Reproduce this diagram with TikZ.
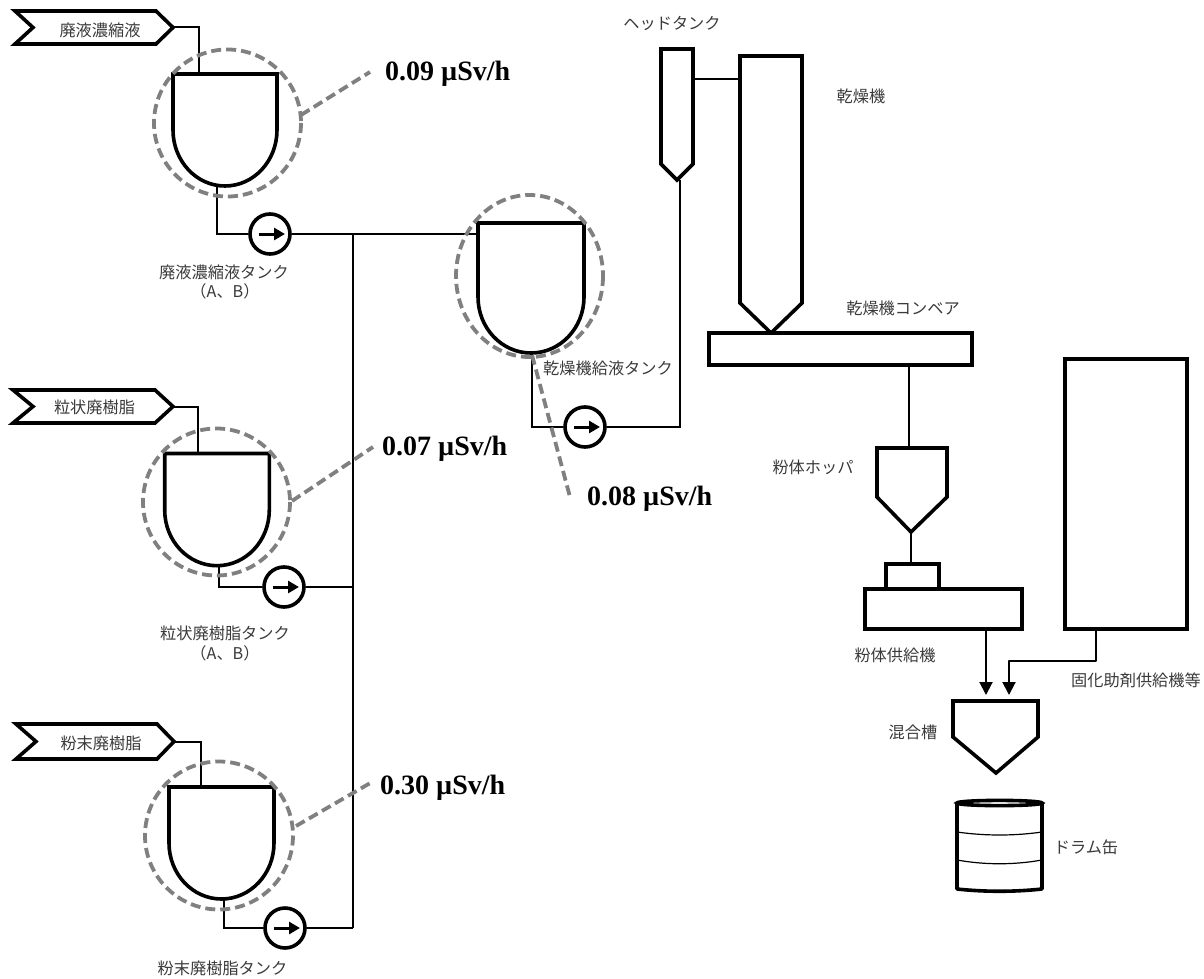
\documentclass[tikz,border=0pt]{standalone}
\usepackage{fontspec}
\usetikzlibrary{arrows.meta,calc}
\newfontfamily\jpfont{Noto Sans CJK JP}
\newfontfamily\valfont{Liberation Serif}
\definecolor{dosegray}{HTML}{808080}
\definecolor{jpgray}{HTML}{3A3A3A}
\tikzset{
  vessel/.style={draw=black,line width=3.6pt,fill=white,miter limit=10},
  vesselbox/.style={vessel,rectangle,inner sep=0pt,outer sep=0pt},
  pipe/.style={draw=black,line width=2pt},
  feed/.style={pipe,-{Triangle[length=13pt,width=13pt]},shorten >=0pt},
  pumpbody/.style={circle,draw=black,line width=3.6pt,fill=white,minimum size=40pt,inner sep=0pt,outer sep=1.8pt},
  pumparrow/.style={draw=black,line width=3pt,-{Triangle[length=11pt,width=12pt]}},
  dosezone/.style={draw=dosegray,line width=3.8pt,dash pattern=on 10pt off 5pt},
  doselead/.style={draw=dosegray,line width=3.8pt,dash pattern=on 10pt off 5pt},
  jplabel/.style={font=\jpfont\fontsize{16.2}{18}\selectfont,text=jpgray,inner sep=0pt},
  doselabel/.style={font=\valfont\bfseries\fontsize{28}{32}\selectfont,anchor=base west,inner sep=0pt},
  drumband/.style={draw=black,line width=1.2pt}
}
% name, left, right, top, shoulder, bottom
\newcommand{\tankshape}[6]{%
  \draw[vessel,line join=miter] (#2,#4) -- (#3,#4) -- (#3,#5)
     arc[start angle=0,end angle=180,x radius={(#3-#2)/2},y radius={#6-#5}] -- cycle;
}
% name, left x, shoulder x, tip x, top y, bottom y, notch x
\newcommand{\tagshape}[7]{%
  \draw[vessel,line join=miter] (#2,#5) -- (#3,#5) -- (#4,{(#5+#6)/2}) -- (#3,#6) -- (#2,#6) -- (#7,{(#5+#6)/2}) -- cycle;
  \coordinate (#1) at (#4,{(#5+#6)/2});
}
\newcommand{\pumpmark}[1]{%
  \draw[pumparrow] ([xshift=-11pt]#1.center) -- ([xshift=15pt]#1.center);
}
\begin{document}
\begin{tikzpicture}[x=1pt,y=-1pt]
\useasboundingbox (0,0) rectangle (1204,979);

% --- feed tags
\tagshape{tagA}{15}{156}{173}{11}{44}{33}
\tagshape{tagB}{13}{155}{173}{390}{423}{33}
\tagshape{tagC}{16}{157}{174}{724}{759}{36}
\node[jplabel] (tagAtext) at (100,30) {廃液濃縮液};
\node[jplabel] (tagBtext) at (94.5,407) {粒状廃樹脂};
\node[jplabel] (tagCtext) at (101,743) {粉末廃樹脂};

% --- pipe junction coordinates
\coordinate (inA) at (199,74);
\coordinate (inB) at (198,454);
\coordinate (inC) at (201,787);
\coordinate (botA) at (217,186);
\coordinate (botB) at (219,565);
\coordinate (botC) at (224,899);
\coordinate (busTop) at (353,234);
\coordinate (busB) at (353,587);
\coordinate (busC) at (353,928);
\coordinate (tankDin) at (478,234);
\coordinate (botD) at (532,353);
\coordinate (riserBot) at (680,427);
\coordinate (riserTop) at (680,180);

% --- pumps
\node[pumpbody] (pumpA) at (270,234) {};
\node[pumpbody] (pumpB) at (284,587) {};
\node[pumpbody] (pumpC) at (285,928) {};
\node[pumpbody] (pumpD) at (585,427) {};

% --- pipes
\draw[pipe] (tagA) -| (inA);
\draw[pipe] (tagB) -| (inB);
\draw[pipe] (tagC) -| (inC);
\draw[pipe] (botA) |- (pumpA);
\draw[pipe] (botB) |- (pumpB);
\draw[pipe] (botC) |- (pumpC);
\draw[pipe] (pumpA) -- (tankDin);
\draw[pipe] (busTop) -- (busC);
\draw[pipe] (pumpB) -- (busB);
\draw[pipe] (pumpC) -- (busC);
\draw[pipe] (botD) |- (pumpD);
\draw[pipe] (pumpD) -- (riserBot) -- (riserTop);

% --- tanks
\tankshape{tankA}{173}{277}{74}{130}{186}
\tankshape{tankB}{164.7}{269.3}{453.5}{510}{565.7}
\tankshape{tankC}{169}{274}{787}{843}{899}
\tankshape{tankD}{478}{584}{223}{297}{353}

\pumpmark{pumpA}
\pumpmark{pumpB}
\pumpmark{pumpC}
\pumpmark{pumpD}

% --- dose zones and leaders
\coordinate (leadA) at (301,115);
\coordinate (leadAend) at (370,72);
\coordinate (leadB) at (292,501);
\coordinate (leadBend) at (373,447);
\coordinate (leadC) at (296,826);
\coordinate (leadCend) at (372,782);
\coordinate (leadD) at (532,355);
\coordinate (leadDend) at (570,497);
\draw[dosezone] (227.5,123) circle[radius=73.5];
\draw[dosezone] (216.5,502) circle[radius=73.5];
\draw[dosezone] (219,835.5) circle[radius=74];
\draw[dosezone] (529.5,276) ellipse[x radius=73.5,y radius=81];
\draw[doselead] (leadA) -- (leadAend);
\draw[doselead] (leadB) -- (leadBend);
\draw[doselead] (leadC) -- (leadCend);
\draw[doselead] (leadD) -- (leadDend);
\node[doselabel] (doseA) at (385,81) {0.09 µSv/h};
\node[doselabel] (doseB) at (382,455) {0.07 µSv/h};
\node[doselabel] (doseC) at (380,794) {0.30 µSv/h};
\node[doselabel] (doseD) at (587,505) {0.08 µSv/h};

% --- head tank and dryer
\draw[vessel,line join=miter] (661,49) -- (693,49) -- (693,164) -- (677,180) -- (661,164) -- cycle;
\draw[vessel,line join=miter] (740,56) -- (802,56) -- (802,303) -- (771,333) -- (740,303) -- cycle;
\coordinate (headOut) at (693,79);
\coordinate (dryerIn) at (740,79);
\draw[pipe] (headOut) -- (dryerIn);

% --- conveyor
\node[vesselbox,minimum width=263pt,minimum height=32pt] (conveyor) at (840.5,349) {};
\coordinate (convOut) at (909,365);
\coordinate (hopIn) at (909,448);
\draw[pipe] (convOut) -- (hopIn);

% --- hopper and feeder
\draw[vessel,line join=miter] (877,448) -- (947,448) -- (947,497) -- (911,532) -- (877,497) -- cycle;
\coordinate (hopOut) at (911,532);
\coordinate (feedIn) at (911,564);
\draw[pipe] (hopOut) -- (feedIn);
\node[vesselbox,minimum width=53pt,minimum height=26pt] (feedTop) at (912.5,577) {};
\node[vesselbox,minimum width=157pt,minimum height=40pt] (feeder) at (943.5,609) {};

% --- solidification agent feeder
\node[vesselbox,minimum width=122pt,minimum height=270pt] (agent) at (1126,494) {};

% --- feed arrows
\coordinate (feederOut) at (986,629);
\coordinate (mixInA) at (986,695);
\coordinate (agentOut) at (1096,629);
\coordinate (agentBend) at (1096,661);
\coordinate (agentBend2) at (1009,661);
\coordinate (mixInB) at (1009,695);
\draw[feed] (feederOut) -- (mixInA);
\draw[feed,line join=round] (agentOut) -- (agentBend) -- (agentBend2) -- (mixInB);

% --- mixing tank
\draw[vessel,line join=miter] (953,701) -- (1038,701) -- (1038,737) -- (996,773) -- (953,737) -- cycle;

% --- drum
\fill[white] (957,803) rectangle (1042,889);
\draw[drumband] (957,832) .. controls (985,836) and (1014,836) .. (1042,832);
\draw[drumband] (957,860) .. controls (985,865) and (1014,865) .. (1042,860);
\draw[vessel,fill=none,line join=round] (957,803) -- (957,889) .. controls (985,892) and (1014,892) .. (1042,889) -- (1042,803);
\draw[vessel,fill=white] (999.5,803) ellipse[x radius=42.5,y radius=2.6];

% --- labels
\node[jplabel] (lblTankA) at (224,272) {廃液濃縮液タンク};
\node[jplabel] (lblTankAb) at (225,291) {（A、B）};
\node[jplabel] (lblTankB) at (225,633) {粒状廃樹脂タンク};
\node[jplabel] (lblTankBb) at (225,653) {（A、B）};
\node[jplabel] (lblTankC) at (222.5,968) {粉末廃樹脂タンク};
\node[jplabel] (lblTankD) at (608,368) {乾燥機給液タンク};
\node[jplabel] (lblHead) at (672,24) {ヘッドタンク};
\node[jplabel] (lblDryer) at (861,96) {乾燥機};
\node[jplabel] (lblConv) at (903,308) {乾燥機コンベア};
\node[jplabel] (lblHopper) at (813,467) {粉体ホッパ};
\node[jplabel] (lblFeeder) at (895,655) {粉体供給機};
\node[jplabel] (lblAgent) at (1136,680) {固化助剤供給機等};
\node[jplabel] (lblMix) at (913,732) {混合槽};
\node[jplabel] (lblDrum) at (1086,847) {ドラム缶};
\end{tikzpicture}
\end{document}
